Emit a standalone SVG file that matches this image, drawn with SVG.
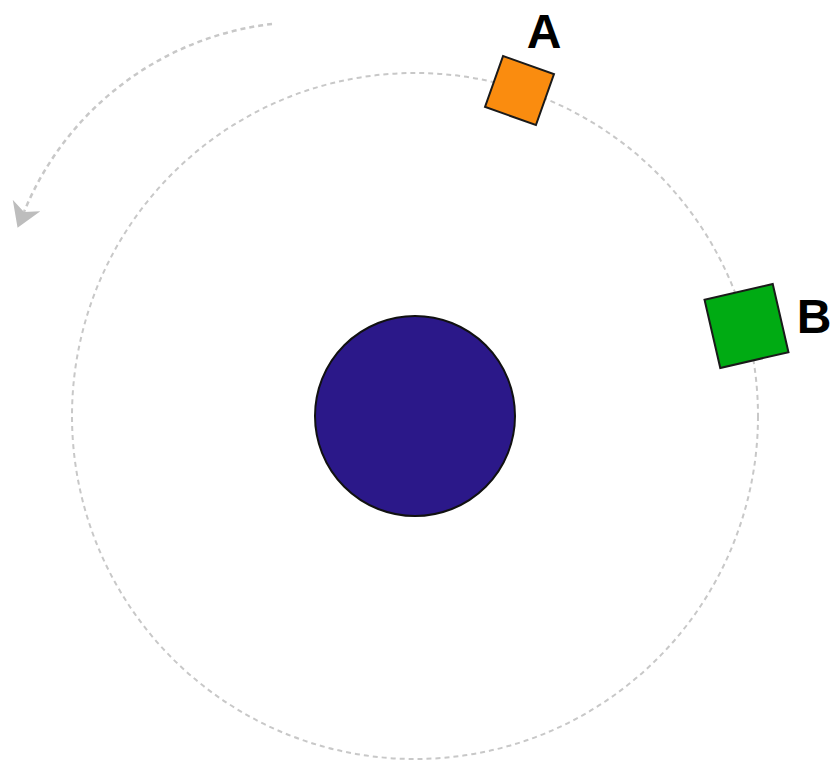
<svg xmlns="http://www.w3.org/2000/svg" width="833" height="761" viewBox="0 0 833 761">
<defs>
<style>
.orbit{fill:none;stroke:#c8c8c8;stroke-width:2;stroke-dasharray:5 4}
.dir{fill:none;stroke:#c8c8c8;stroke-width:2.5;stroke-dasharray:5 4}
.sq{stroke:#1a1a1a;stroke-width:2}
.lbl{font-family:"Liberation Sans",Arial,sans-serif;font-weight:bold;font-size:48px;fill:#000;text-anchor:middle}
</style>
<marker id="ah" markerUnits="userSpaceOnUse" viewBox="0 0 24 30" markerWidth="24" markerHeight="30" refX="7" refY="15" orient="auto">
<path d="M24,15 L0,0 L7,15 L0,30 Z" fill="#bdbdbd"/>
</marker>
</defs>
<rect width="833" height="761" fill="#fff"/>
<g id="connectors">
<circle class="orbit" cx="415" cy="416" r="343"/>
<path class="dir" d="M272,24 A306,306 0 0 0 24,212" marker-end="url(#ah)"/>
</g>
<g id="planet">
<circle cx="415" cy="416" r="100" fill="#2b1889" stroke="#111" stroke-width="2"/>
</g>
<g id="nodeA">
<rect class="sq" x="-27" y="-27" width="54" height="54" fill="#fa8c0f" transform="translate(519.5 90.5) rotate(19.5)"/>
<text class="lbl" x="544" y="48">A</text>
</g>
<g id="nodeB">
<rect class="sq" x="-35" y="-35" width="70" height="70" fill="#00ab13" transform="translate(746.5 326) rotate(-13)"/>
<text class="lbl" x="814" y="333">B</text>
</g>
</svg>
